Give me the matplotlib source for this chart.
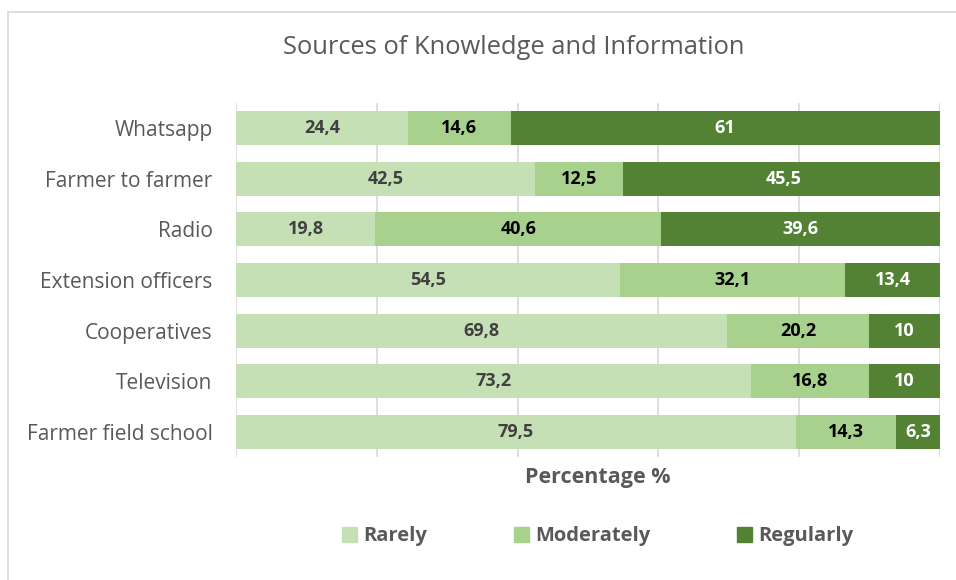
import numpy as np
import matplotlib as mpl
mpl.use('Agg')
import matplotlib.pyplot as plt
from matplotlib.lines import Line2D

plt.rcParams['font.family'] = ['Open Sans', 'DejaVu Sans']

# data (top to bottom as shown)
sources = ['Whatsapp', 'Farmer to farmer', 'Radio', 'Extension officers',
           'Cooperatives', 'Television', 'Farmer field school']
rarely = [24.4, 42.5, 19.8, 54.5, 69.8, 73.2, 79.5]
moderately = [14.6, 12.5, 40.6, 32.1, 20.2, 16.8, 14.3]
regularly = [61, 45.5, 39.6, 13.4, 10, 10, 6.3]
series_names = ['Rarely', 'Moderately', 'Regularly']

colors = ['#C5E0B4', '#A9D18E', '#548235']
label_colors = ['#404040', '#000000', '#FFFFFF']
gray = '#595959'

fig = plt.figure(figsize=(9.56, 5.8), dpi=100)
ax = fig.add_axes([0.247, 0.2116, 0.736, 0.6114])

y = np.arange(len(sources))
left = np.zeros(len(sources))
for vals, name, c, lc in zip([rarely, moderately, regularly], series_names, colors, label_colors):
    vals = np.array(vals)
    ax.barh(y, vals, left=left, height=0.67, color=c, label=name, zorder=2)
    for yi, l, v in zip(y, left, vals):
        ax.text(l + v / 2, yi, ('%g' % v).replace('.', ','), ha='center', va='center',
                color=lc, fontsize=13, fontweight='bold', zorder=3)
    left = left + vals

ax.set_xlim(0, 100)
ax.set_ylim(len(sources) - 0.5, -0.5)
ax.set_xticks(np.arange(0, 101, 20))
ax.set_xticklabels([])
ax.tick_params(axis='x', length=0)
ax.set_yticks(y)
ax.set_yticklabels(sources, fontsize=15, color=gray)
ax.tick_params(axis='y', length=0, pad=17)
ax.grid(axis='x', color='#D9D9D9', linewidth=1.2, zorder=0)
for s in ax.spines.values():
    s.set_visible(False)

ax.set_xlabel('Percentage %', fontsize=15.5, fontweight='bold', color=gray, va='center')
ax.xaxis.set_label_coords(0.514, -0.056)
fig.text(0.537, 0.918, 'Sources of Knowledge and Information', ha='center', va='center',
         fontsize=18.4, color=gray)

handles = [plt.Rectangle((0, 0), 1, 1, color=c) for c in colors]
leg = fig.legend(handles, series_names, loc='center', bbox_to_anchor=(0.625, 0.075), ncol=3,
                 frameon=False, handlelength=0.75, handleheight=0.75, handletextpad=0.3,
                 columnspacing=4.3, prop={'size': 14.5, 'weight': 'bold'})
for t in leg.get_texts():
    t.set_color(gray)

# chart area border (top and left)
fig.add_artist(Line2D([8 / 956, 1], [1 - 12 / 580, 1 - 12 / 580], transform=fig.transFigure,
                      color='#D9D9D9', linewidth=1.2))
fig.add_artist(Line2D([8 / 956, 8 / 956], [0, 1 - 12 / 580], transform=fig.transFigure,
                      color='#D9D9D9', linewidth=1.2))

fig.savefig('out.png', dpi=100)
